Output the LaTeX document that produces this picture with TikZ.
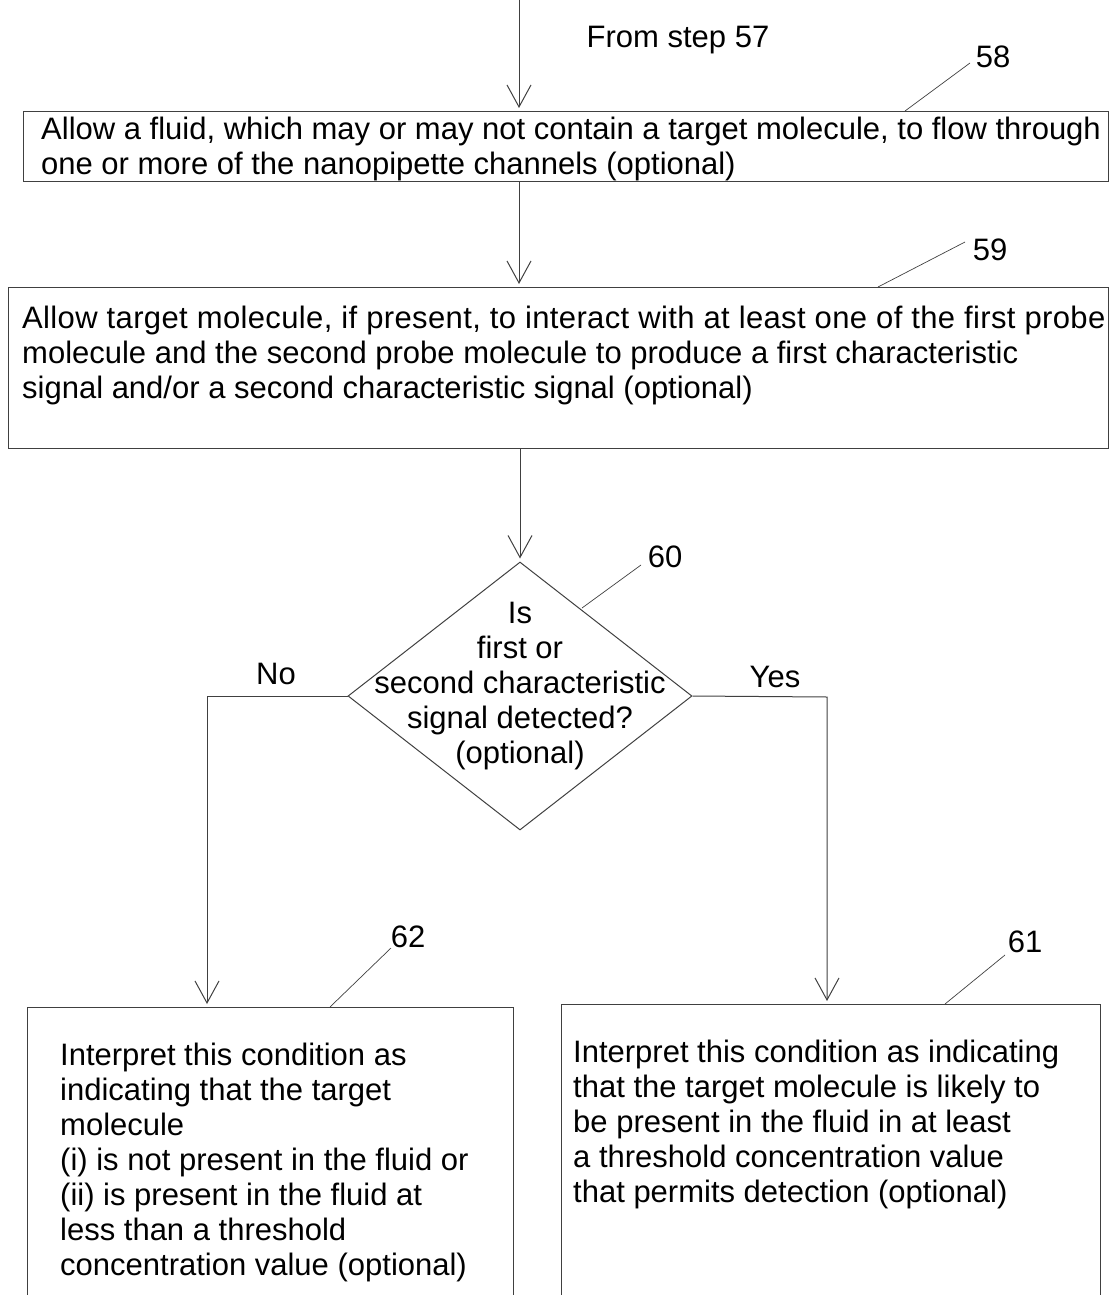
\documentclass[tikz,border=0pt]{standalone}
\usepackage{fontspec}
\setmainfont{Liberation Sans}
\usetikzlibrary{arrows.meta,shapes.geometric}
\begin{document}
\begin{tikzpicture}[x=1pt,y=-1pt,
  line/.style={draw=black!75, line width=1pt},
  lead/.style={draw=black!75, line width=0.7pt},
  arr/.style={line, -{Straight Barb[length=22pt,width=24pt,line width=1pt]}, shorten >=3pt},
  box/.style={line, rectangle, inner sep=0pt, anchor=north west},
  txt/.style={font=\fontsize{31}{35}\selectfont, align=left, inner sep=0pt},
  lbl/.style={font=\fontsize{31}{35}\selectfont, inner sep=1pt},
]
\useasboundingbox (0,0) rectangle (1111,1295);
\clip (0,0) rectangle (1111,1295);

% boxes
\node[box, minimum width=1085pt, minimum height=70pt] (b58) at (23,111) {};
\node[box, minimum width=1100pt, minimum height=161pt] (b59) at (8,287) {};
\node[box, minimum width=486pt, minimum height=320pt] (b62) at (27,1007) {};
\node[box, minimum width=539pt, minimum height=320pt] (b61) at (561,1004) {};
\node[diamond, line, minimum width=344pt, minimum height=268pt, inner sep=0pt] (d60) at (520,696) {};

% texts
\node[txt, anchor=west] (t58) at ([xshift=18pt,yshift=-2pt]b58.west) {Allow a fluid, which may or may not contain a target molecule, to flow through\\one or more of the nanopipette channels (optional)};
\node[txt, anchor=north west] (t59) at (22,306) {{\addfontfeatures{LetterSpace=1.2}Allow target molecule, if present, to interact with at least one of the first probe}\\molecule and the second probe molecule to produce a first characteristic\\signal and/or a second characteristic signal (optional)};
\node[txt, align=center] (t60) at (520,686) {Is\\first or\\second characteristic\\signal detected?\\(optional)};
\node[txt, anchor=north west] (t62) at (60,1043) {Interpret this condition as\\indicating that the target\\molecule\\(i) is not present in the fluid or\\(ii) is present in the fluid at\\less than a threshold\\concentration value (optional)};
\node[txt, anchor=north west] (t61) at (573,1040) {Interpret this condition as indicating\\that the target molecule is likely to\\be present in the fluid in at least\\a threshold concentration value\\that permits detection (optional)};

\node[txt] (from) at (678,40) {From step 57};
\node[txt] (no) at (276,674) {No};
\node[txt] (yes) at (775,677) {Yes};

% reference numerals
\node[lbl] (n58) at (993,57) {58};
\node[lbl] (n59) at (990,250) {59};
\node[lbl] (n60) at (665,557) {60};
\node[lbl] (n62) at (408,937) {62};
\node[lbl] (n61) at (1025,942) {61};

% leader lines
\coordinate (l58) at (905,111);
\coordinate (l59) at (878,287);
\coordinate (l60) at (582,608);
\coordinate (l62) at (330,1007);
\coordinate (l61) at (945,1004);
\draw[lead] (l58) -- (970,63);
\draw[lead] (l59) -- (965,242);
\draw[lead] (l60) -- (641,565);
\draw[lead] (l62) -- (391,948);
\draw[lead] (l61) -- (1005,955);

% connectors
\coordinate (start) at (519,0);
\draw[arr] (start) -- (b58.north -| start);
\draw[arr] (b58.south -| start) -- (b59.north -| start);
\draw[arr] (b59.south -| d60.north) -- (d60.north);
\coordinate (nocorner) at (207,696);
\coordinate (yescorner) at (827,697);
\draw[arr] (d60.west) -- (nocorner) -- (nocorner |- b62.north);
\draw[arr] (d60.east) -- (yescorner) -- (yescorner |- b61.north);
\end{tikzpicture}
\end{document}
